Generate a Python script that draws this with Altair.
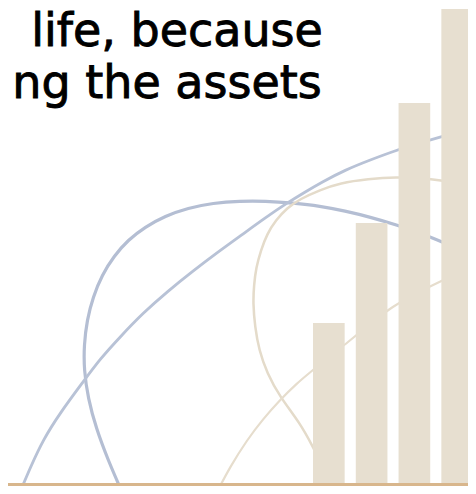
import altair as alt
import pandas as pd

# ---- data (pixel coordinates of the 476x494 image) ----
BASE = 485  # ground level used for the bars (visible bottom of the picture)

bar_cats = ["1", "2", "3", "4"]
bar_tops = [323, 223, 103, 9]          # top edge of each bar in the picture
bar_vals = [BASE - t for t in bar_tops]

blue_arc_x = [122, 108, 96, 88, 84, 84, 87, 93, 102, 114, 128, 145, 165, 188, 213, 240, 265, 293, 320, 345, 370, 397, 420, 440, 476]
blue_arc_y = [492, 460, 428, 398, 370, 345, 320, 297, 275, 256, 240, 227, 216, 208, 203, 201, 201, 203, 206, 211, 217, 225, 233, 241, 256]

blue_line_x = [20, 31, 43, 60, 83, 100, 120, 143, 168, 193, 218, 243, 265, 287, 305, 322, 345, 370, 397, 420, 440, 476]
blue_line_y = [492, 466, 440, 413, 382, 359, 337, 313, 291, 271, 252, 234, 218, 203, 192, 182, 170, 160, 150, 143, 137, 127]

beige_arc_x = [335, 324, 313, 300, 280, 267, 259, 255, 253, 254, 256, 261, 267, 276, 287, 300, 320, 340, 368, 397, 420, 440, 476]
beige_arc_y = [492, 469, 447, 423, 397, 373, 350, 327, 303, 285, 268, 250, 234, 220, 208, 199, 190, 183, 179, 177, 178, 180, 186]

beige_line_x = [217, 230, 247, 263, 280, 296, 313, 330, 347, 370, 393, 415, 437, 476]
beige_line_y = [492, 467, 440, 419, 400, 384, 370, 356, 343, 324, 306, 294, 283, 265]

text_lines = ["life, because", "ng the assets"]
text_x_center = [177, 167]
text_baseline = [46, 98]

# ---- build tables ----
curves = {
    "blue_arc": (blue_arc_x, blue_arc_y),
    "blue_line": (blue_line_x, blue_line_y),
    "beige_arc": (beige_arc_x, beige_arc_y),
    "beige_line": (beige_line_x, beige_line_y),
}
rows = []
for name, (xs_, ys_) in curves.items():
    for i, (x, y) in enumerate(zip(xs_, ys_)):
        rows.append({"series": name, "order": i, "x": x, "v": BASE - y})
curve_df = pd.DataFrame(rows)

bar_df = pd.DataFrame({"cat": bar_cats, "v": bar_vals})
text_df = pd.DataFrame({"t": text_lines, "x": text_x_center, "v": [BASE - b for b in text_baseline]})
ground_df = pd.DataFrame({"x": [8], "x2": [476], "v": [0.5]})

W, H = 460, 478
# picture pixel x in [8, 468] and y in [8, 486] are the visible part of the page
xs = alt.Scale(domain=[8, 468], range=[0, W], nice=False, zero=False)
ys = alt.Scale(domain=[BASE - 486, BASE - 8], nice=False, zero=False)

series_names = list(curves.keys())
lines = alt.Chart(curve_df).mark_line(interpolate="basis", strokeCap="round").encode(
    x=alt.X("x:Q", scale=xs, axis=None),
    y=alt.Y("v:Q", scale=ys, axis=None),
    detail="series:N",
    order="order:Q",
    color=alt.Color("series:N", scale=alt.Scale(domain=series_names,
                    range=["#b4bed3", "#b8c2d6", "#e4dbca", "#e6ddcd"]), legend=None),
    size=alt.Size("series:N", scale=alt.Scale(domain=series_names, range=[3.2, 2.2, 2.6, 2.0]), legend=None),
)

bars = alt.Chart(bar_df).mark_bar(color="#e7dfd0").encode(
    x=alt.X("cat:N", scale=alt.Scale(range=[313 - 8, 473 - 8], paddingInner=0.26, paddingOuter=0), axis=None),
    y=alt.Y("v:Q", scale=ys, axis=None),
    y2=alt.datum(0),
)

ground = alt.Chart(ground_df).mark_rule(color="#d8b68c", strokeWidth=3).encode(
    x=alt.X("x:Q", scale=xs, axis=None),
    x2="x2:Q",
    y=alt.Y("v:Q", scale=ys, axis=None),
)

texts = alt.Chart(text_df).mark_text(align="center", baseline="alphabetic", font="DejaVu Sans",
                                     fontSize=46, color="#000000", stroke="#000000",
                                     strokeWidth=0.9).encode(
    x=alt.X("x:Q", scale=xs, axis=None),
    y=alt.Y("v:Q", scale=ys, axis=None),
    text="t:N",
)

chart = alt.layer(lines, bars, ground, texts).resolve_scale(x="independent").properties(
    width=W, height=H, autosize=alt.AutoSizeParams(type="none"), padding=0,
).configure_view(strokeWidth=0)

chart.save("out.html", embed_options={"renderer": "svg", "actions": False})
